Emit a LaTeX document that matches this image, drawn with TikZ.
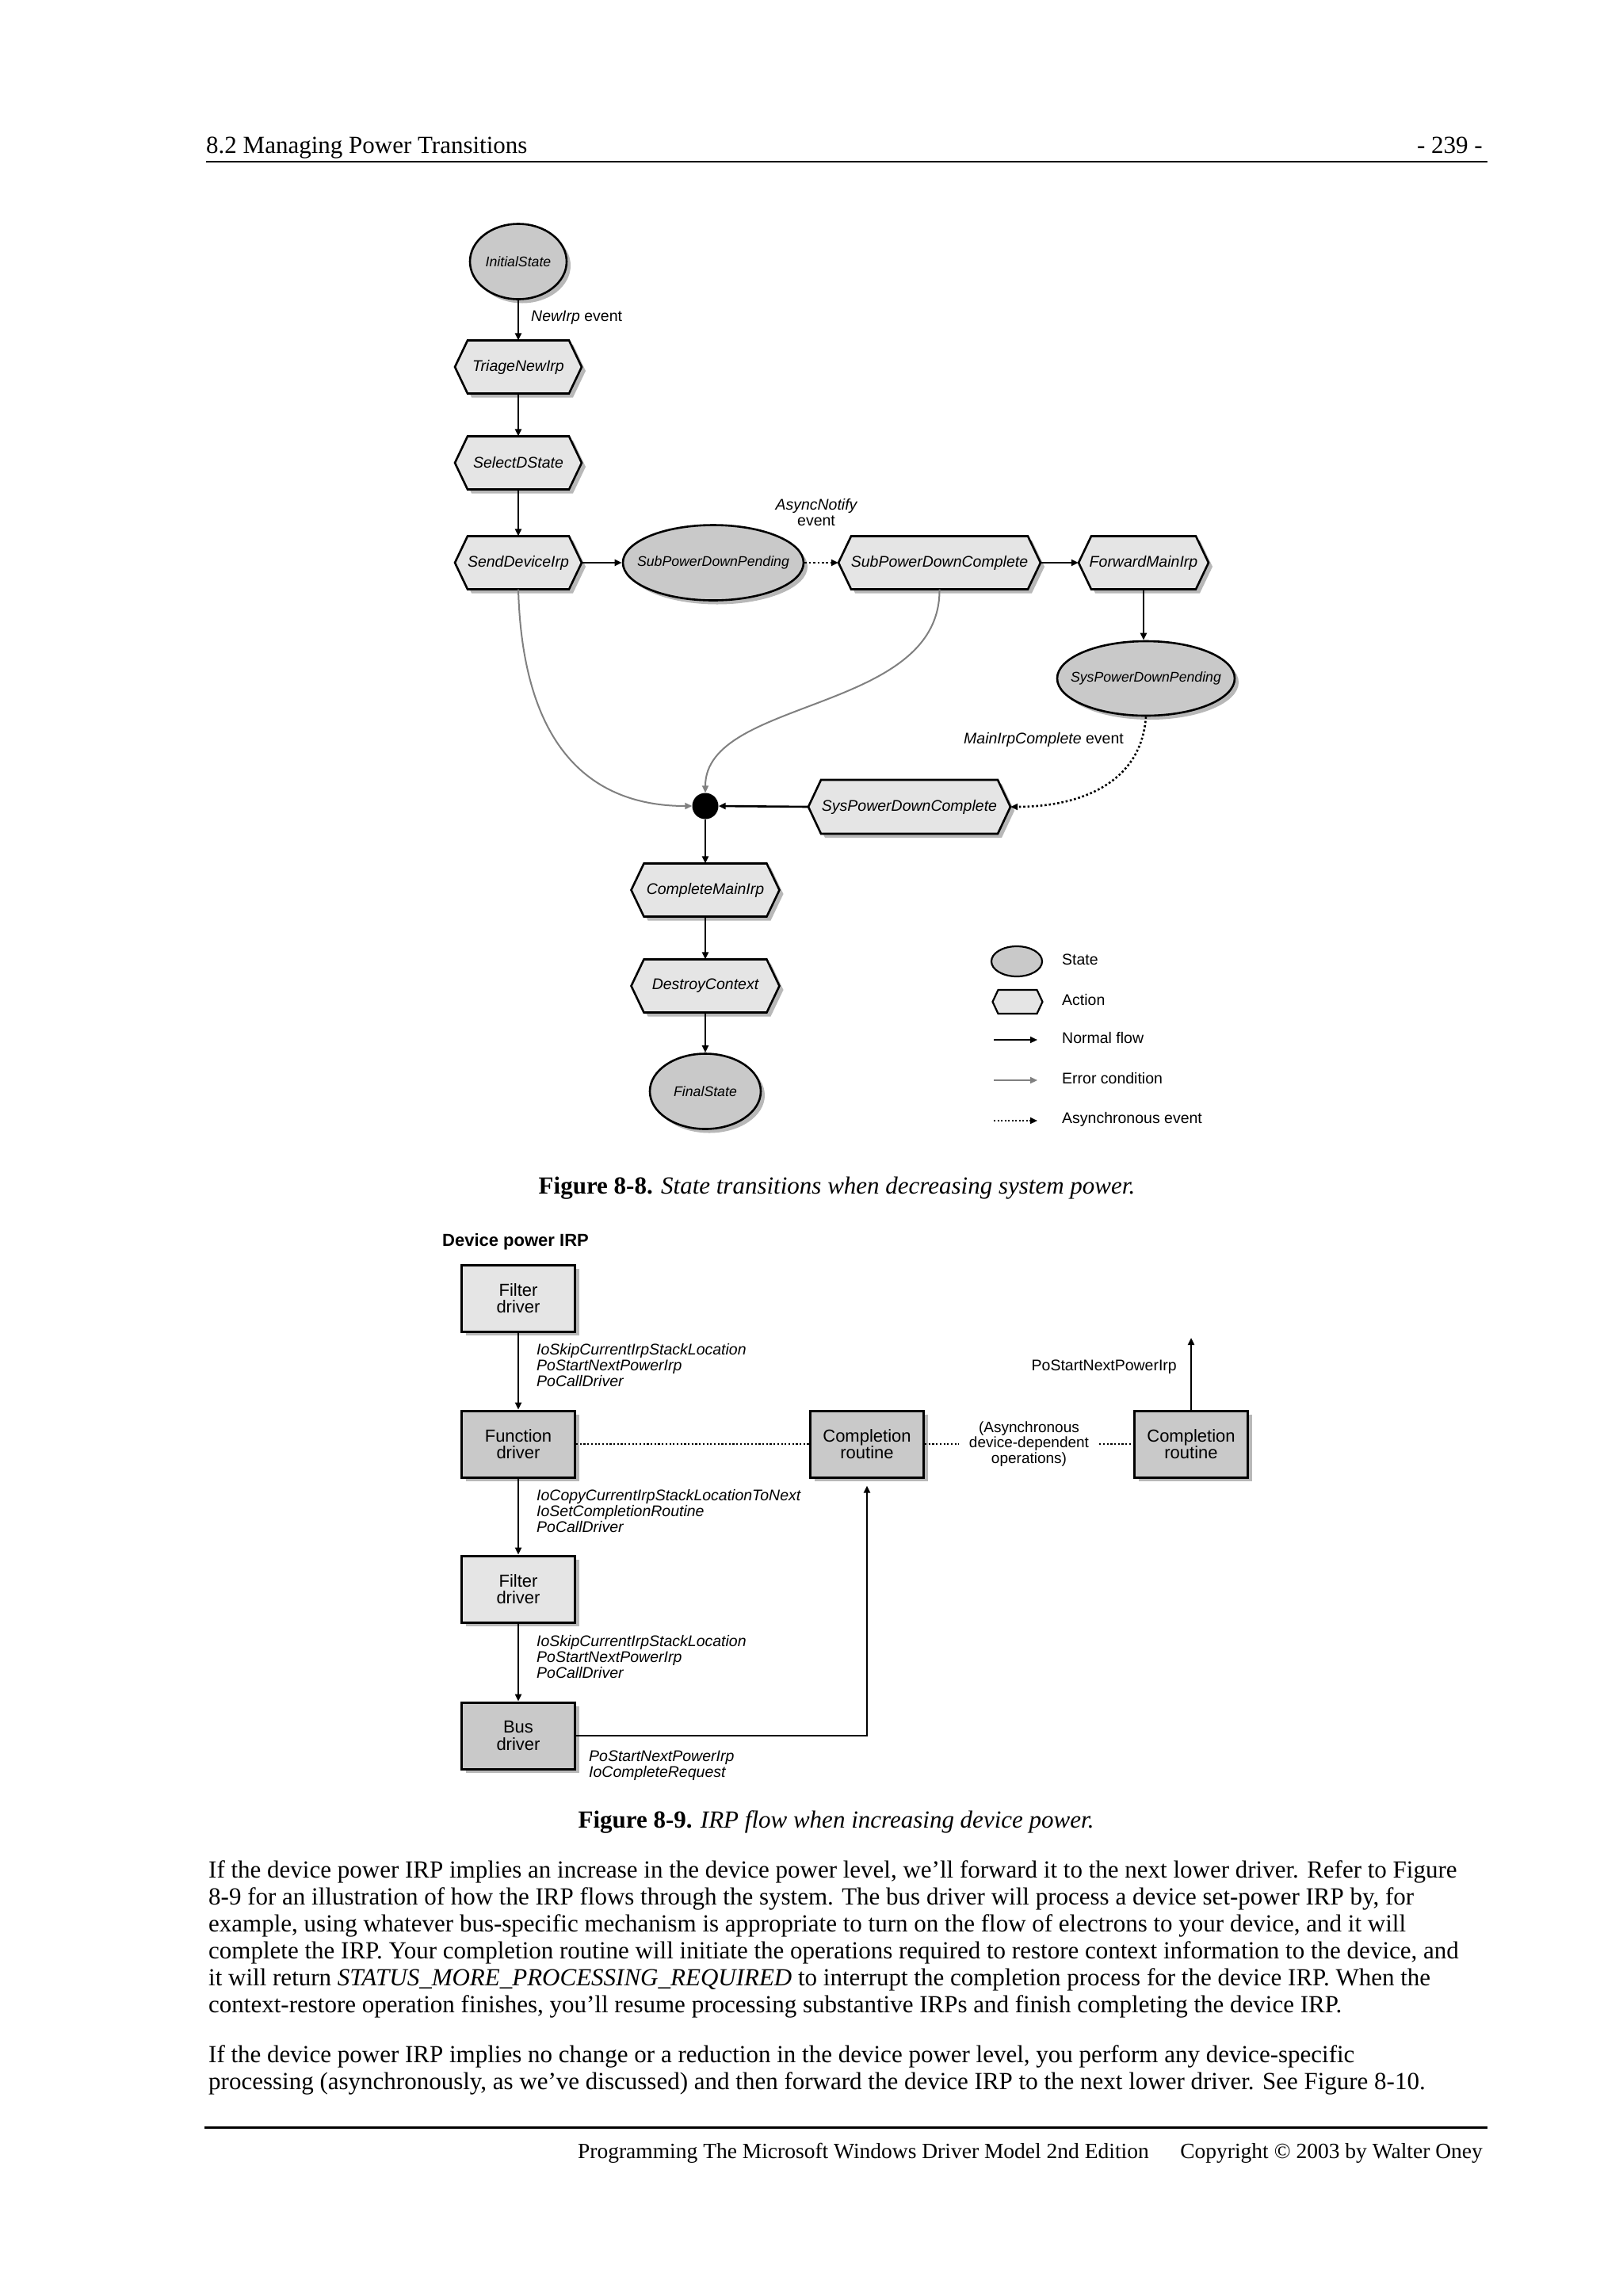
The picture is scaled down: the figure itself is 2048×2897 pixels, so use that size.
\documentclass[tikz,border=0pt]{standalone}
\usepackage{fontspec}
\setmainfont{Liberation Serif}
\newfontfamily\arial{Liberation Sans}
\usetikzlibrary{arrows.meta,shapes.geometric}
\definecolor{lightf}{gray}{0.9}
\definecolor{darkf}{gray}{0.79}
\definecolor{shad}{gray}{0.72}
\definecolor{errc}{gray}{0.5}
\newcommand\hexdraw[6]{%
 \pgfmathsetmacro\hxl{#2-#4/2}\pgfmathsetmacro\hxr{#2+#4/2}%
 \pgfmathsetmacro\hxil{#2-#4/2+#6}\pgfmathsetmacro\hxir{#2+#4/2-#6}%
 \pgfmathsetmacro\hyt{#3-#5/2}\pgfmathsetmacro\hyb{#3+#5/2}%
 \path[#1] (\hxl,#3) -- (\hxil,\hyt) -- (\hxir,\hyt) -- (\hxr,#3) -- (\hxir,\hyb) -- (\hxil,\hyb) -- cycle;}
\newcommand\hexnode[6]{% name cx cy w h text
 \hexdraw{shadowfill,shift={(5,5)}}{#2}{#3}{#4}{#5}{16}%
 \hexdraw{hexstyle}{#2}{#3}{#4}{#5}{16}%
 \node[hextext, minimum width=#4pt, minimum height=#5pt] (#1) at (#2,#3) {#6};}
\newcommand\statenode[6]{% name cx cy w h text
 \pgfmathsetmacro\ex{#2+5}\pgfmathsetmacro\ey{#3+5}%
 \pgfmathsetmacro\erx{#4/2}\pgfmathsetmacro\ery{#5/2}%
 \fill[shadowfill] (\ex,\ey) ellipse [x radius=\erx, y radius=\ery];
 \node[statestyle, minimum width=#4pt, minimum height=#5pt] (#1) at (#2,#3) {};
 \node[statetext] at (#1) {#6};}
\newcommand\boxnode[5]{% name cx cy fill text
 \pgfmathsetmacro\bxl{#2-71.5+5}\pgfmathsetmacro\bxr{#2+71.5+5}%
 \pgfmathsetmacro\byt{#3-42+5}\pgfmathsetmacro\byb{#3+42+5}%
 \fill[shadowfill] (\bxl,\byt) rectangle (\bxr,\byb);
 \node[boxstyle, fill=#4] (#1) at (#2,#3) {#5};}
\begin{document}
\begin{tikzpicture}[x=1pt,y=-1pt,
 flow/.style={line width=2.6pt, -{Triangle[length=9pt,width=8pt]}},
 errflow/.style={draw=errc, line width=2pt, -{Triangle[length=9pt,width=8pt]}},
 asyncflow/.style={line width=2.6pt, dash pattern=on 2.6pt off 2.8pt, -{Triangle[length=9pt,width=8pt]}},
 dotline/.style={line width=2.2pt, dash pattern=on 2.2pt off 2.5pt},
 hexstyle/.style={draw, fill=lightf, line width=2.6pt, line join=miter},
 shadowfill/.style={fill=shad},
 statestyle/.style={ellipse, draw, fill=darkf, line width=2.6pt, inner sep=0pt},
 statetext/.style={inner sep=0pt, font=\arial\itshape\fontsize{17.7}{18}\selectfont},
 hextext/.style={inner sep=0pt, font=\arial\itshape\fontsize{19.5}{20}\selectfont},
 lbl/.style={inner sep=0pt, font=\arial\fontsize{19.5}{20}\selectfont},
 ilbl/.style={inner sep=0pt, align=left, font=\arial\itshape\fontsize{19.5}{20}\selectfont},
 boxstyle/.style={rectangle, draw, line width=3pt, inner sep=0pt, minimum width=143pt, minimum height=84pt, align=center, font=\arial\fontsize{22}{21.5}\selectfont},
 body/.style={anchor=base west, inner sep=0pt, font=\fontsize{31}{34}\selectfont},
 dotnode/.style={circle, fill=black, inner sep=0pt, minimum size=33pt}]
\fill[white] (0,0) rectangle (2048,2897);
\useasboundingbox (0,0) rectangle (2048,2897);
% header
\node[body] (hdr) at (260,193) {8.2 Managing Power Transitions};
\node[anchor=base east, inner sep=0pt, font=\fontsize{31}{34}\selectfont] (pg) at (1871,193) {- 239 -};
\draw[line width=2.5pt] (260,204) -- (1877,204);
% ---------- Figure 8-8 ----------
\statenode{init}{654}{330}{122}{95}{InitialState}
\hexnode{triage}{654}{463}{160}{67}{TriageNewIrp}
\hexnode{select}{654}{584}{160}{67}{SelectDState}
\hexnode{send}{654}{710}{160}{67}{SendDeviceIrp}
\statenode{subpend}{900}{710}{228}{95}{SubPowerDownPending}
\hexnode{subcomp}{1185.5}{710}{255}{67}{SubPowerDownComplete}
\hexnode{fwd}{1443}{710}{164}{67}{ForwardMainIrp}
\statenode{syspend}{1446}{856}{224}{94}{SysPowerDownPending}
\hexnode{syscomp}{1147.5}{1018}{255}{68}{SysPowerDownComplete}
\node[dotnode] (dot) at (890,1017) {};
\hexnode{cmain}{890}{1123}{187}{67}{CompleteMainIrp}
\hexnode{destroy}{890}{1244}{187}{67}{DestroyContext}
\statenode{final}{890}{1377}{140}{95}{FinalState}
\draw[flow] (init.south) -- (triage.north);
\node[lbl, anchor=west] (newirp) at (670,401) {\itshape NewIrp\upshape\ event};
\draw[flow] (triage.south) -- (select.north);
\draw[flow] (select.south) -- (send.north);
\draw[flow] (send.east) -- (subpend.west);
\draw[asyncflow] (subpend.east) -- (subcomp.west);
\node[lbl, align=center] (asyncn) at (1030,647) {\itshape AsyncNotify\\ event};
\draw[flow] (subcomp.east) -- (fwd.west);
\draw[flow] (fwd.south) -- (fwd.south |- syspend.north);
\draw[errflow] (send.south) .. controls (660,960) and (760,1017) .. (dot.west);
\draw[errflow] (subcomp.south) .. controls (1187,900) and (890,880) .. (dot.north);
\draw[asyncflow] (syspend.south) .. controls (1440,990) and (1360,1018) .. (syscomp.east);
\node[lbl, anchor=east] (mainirp) at (1418,933) {\itshape MainIrpComplete\upshape\ event};
\draw[flow] (syscomp.west) -- (dot.east);
\draw[flow] (dot.south) -- (cmain.north);
\draw[flow] (cmain.south) -- (destroy.north);
\draw[flow] (destroy.south) -- (final.north);
% legend
\node[statestyle, line width=2.2pt, minimum width=64pt, minimum height=38pt] (lstate) at (1283,1213) {};
\hexdraw{hexstyle, line width=2.2pt}{1284}{1264}{63}{30}{7}
\node[inner sep=0pt, minimum width=63pt, minimum height=30pt] (laction) at (1284,1264) {};
\node[lbl, anchor=west] (tstate) at (1340,1211) {State};
\node[lbl, anchor=west] (taction) at (1340,1262) {Action};
\node[lbl, anchor=west] (tnormal) at (1340,1310) {Normal flow};
\node[lbl, anchor=west] (terror) at (1340,1361) {Error condition};
\node[lbl, anchor=west] (tasync) at (1340,1412) {Asynchronous event};
\coordinate (n1) at (1254,1312); \coordinate (n2) at (1309,1312);
\coordinate (e1) at (1254,1363); \coordinate (e2) at (1309,1363);
\coordinate (a1) at (1254,1414); \coordinate (a2) at (1309,1414);
\draw[flow, line width=2pt] (n1) -- (n2);
\draw[errflow, line width=2pt] (e1) -- (e2);
\draw[asyncflow, line width=2pt, dash pattern=on 2pt off 2.5pt] (a1) -- (a2);
\node[anchor=base, inner sep=0pt, font=\fontsize{31}{34}\selectfont] (cap1) at (1056,1506) {\textbf{Figure 8-8.} \textit{State transitions when decreasing system power.}};
% ---------- Figure 8-9 ----------
\node[anchor=base west, inner sep=0pt, font=\arial\bfseries\fontsize{22}{24}\selectfont] (dtitle) at (558,1572) {Device power IRP};
\boxnode{filt1}{654}{1638}{lightf}{Filter\\driver}
\boxnode{func}{654}{1822}{darkf}{Function\\driver}
\boxnode{filt2}{654}{2005}{lightf}{Filter\\driver}
\boxnode{bus}{654}{2190}{darkf}{Bus\\driver}
\boxnode{comp1}{1094}{1822}{darkf}{Completion\\routine}
\boxnode{comp2}{1503}{1822}{darkf}{Completion\\routine}
\node[lbl, align=center, minimum width=177pt, font=\arial\fontsize{19}{19.5}\selectfont] (async) at (1298.5,1822) {(Asynchronous\\device-dependent\\operations)};
\draw[flow] (filt1.south) -- (func.north);
\draw[flow] (func.south) -- (filt2.north);
\draw[flow] (filt2.south) -- (bus.north);
\draw[dotline] (func.east) -- (comp1.west);
\draw[dotline] (comp1.east) -- (async.west);
\draw[dotline] (async.east) -- (comp2.west);
\draw[flow, shorten >=9pt] (bus.east) -| (comp1.south);
\coordinate (c2top) at (1503,1688);
\draw[flow] (comp2.north) -- (c2top);
\node[lbl, anchor=east] (psn) at (1485,1725) {PoStartNextPowerIrp};
\node[ilbl, anchor=west] (lab1) at (677,1723) {IoSkipCurrentIrpStackLocation\\PoStartNextPowerIrp\\PoCallDriver};
\node[ilbl, anchor=west] (lab2) at (677,1907) {IoCopyCurrentIrpStackLocationToNext\\IoSetCompletionRoutine\\PoCallDriver};
\node[ilbl, anchor=west] (lab3) at (677,2091) {IoSkipCurrentIrpStackLocation\\PoStartNextPowerIrp\\PoCallDriver};
\node[ilbl, anchor=west] (lab4) at (743,2228) {PoStartNextPowerIrp\\IoCompleteRequest};
\node[anchor=base, inner sep=0pt, font=\fontsize{31}{34}\selectfont] (cap2) at (1055,2306) {\textbf{Figure 8-9.} \textit{IRP flow when increasing device power.}};
% ---------- body text ----------
\node[body] (p1) at (263,2369) {If the device power IRP implies an increase in the device power level, we’ll forward it to the next lower driver. Refer to Figure};
\node[body] (p2) at (263,2403) {8-9 for an illustration of how the IRP flows through the system. The bus driver will process a device set-power IRP by, for};
\node[body] (p3) at (263,2437) {example, using whatever bus-specific mechanism is appropriate to turn on the flow of electrons to your device, and it will};
\node[body] (p4) at (263,2471) {complete the IRP. Your completion routine will initiate the operations required to restore context information to the device, and};
\node[body] (p5) at (263,2505) {it will return \textit{STATUS\_MORE\_PROCESSING\_REQUIRED} to interrupt the completion process for the device IRP. When the};
\node[body] (p6) at (263,2539) {context-restore operation finishes, you’ll resume processing substantive IRPs and finish completing the device IRP.};
\node[body] (p7) at (263,2602) {If the device power IRP implies no change or a reduction in the device power level, you perform any device-specific};
\node[body] (p8) at (263,2636) {processing (asynchronously, as we’ve discussed) and then forward the device IRP to the next lower driver. See Figure 8-10.};
% footer
\draw[line width=3pt] (258,2684.5) -- (1877,2684.5);
\node[anchor=base east, inner sep=0pt, font=\fontsize{27.5}{30}\selectfont] (ft1) at (1450,2723) {Programming The Microsoft Windows Driver Model 2nd Edition};
\node[anchor=base east, inner sep=0pt, font=\fontsize{27.5}{30}\selectfont] (ft2) at (1871,2723) {Copyright © 2003 by Walter Oney};
\end{tikzpicture}
\end{document}
